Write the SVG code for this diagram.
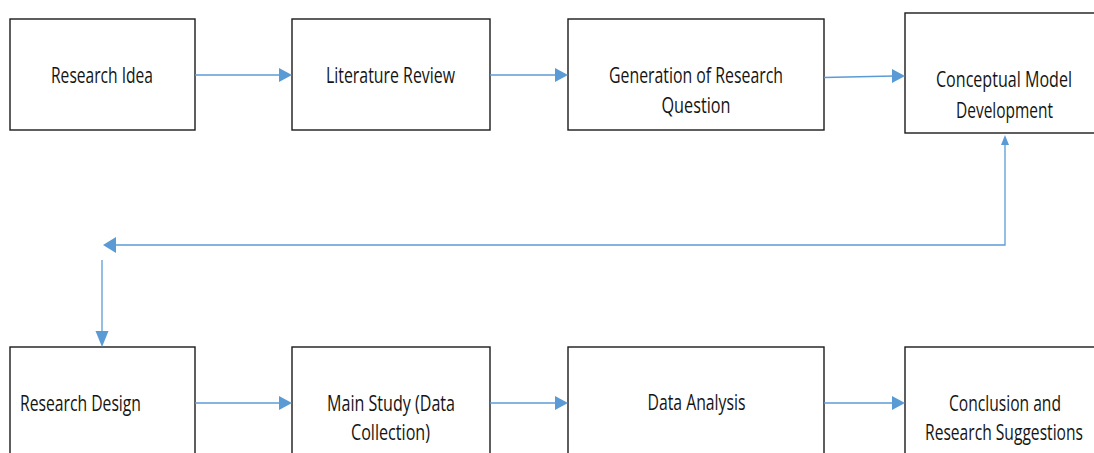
<svg xmlns="http://www.w3.org/2000/svg" width="1094" height="453" viewBox="0 0 1094 453">
  <style>
    .box { fill: #ffffff; stroke: #1a1a1a; stroke-width: 1.4; }
    .lbl { font-family: "Open Sans", "Liberation Sans", sans-serif; font-size: 21px; fill: #141414; text-anchor: middle; }
    .lbl-left { text-anchor: start; }
    .wire { fill: none; stroke: #5b9bd5; stroke-width: 1.3; }
    .head { fill: #5b9bd5; }
  </style>
  <rect width="1094" height="453" fill="#ffffff"/>

  <!-- top row -->
  <g id="research-idea">
    <rect class="box" x="10" y="19" width="185" height="111"/>
    <text class="lbl" x="102" y="83" textLength="102" lengthAdjust="spacingAndGlyphs">Research Idea</text>
  </g>
  <g id="literature-review">
    <rect class="box" x="292" y="19" width="198" height="111"/>
    <text class="lbl" x="390.5" y="83" textLength="129" lengthAdjust="spacingAndGlyphs">Literature Review</text>
  </g>
  <g id="research-question">
    <rect class="box" x="568" y="19" width="256" height="111"/>
    <text class="lbl" x="696" y="83" textLength="174" lengthAdjust="spacingAndGlyphs">Generation of Research</text>
    <text class="lbl" x="696" y="113" textLength="69" lengthAdjust="spacingAndGlyphs">Question</text>
  </g>
  <g id="conceptual-model">
    <rect class="box" x="905" y="13" width="200" height="120"/>
    <text class="lbl" x="1004" y="87" textLength="136" lengthAdjust="spacingAndGlyphs">Conceptual Model</text>
    <text class="lbl" x="1004.5" y="118" textLength="97" lengthAdjust="spacingAndGlyphs">Development</text>
  </g>

  <!-- bottom row -->
  <g id="research-design">
    <rect class="box" x="10" y="347" width="185" height="120"/>
    <text class="lbl lbl-left" x="20" y="411" textLength="121" lengthAdjust="spacingAndGlyphs">Research Design</text>
  </g>
  <g id="main-study">
    <rect class="box" x="292" y="347" width="198" height="120"/>
    <text class="lbl" x="391" y="411" textLength="128" lengthAdjust="spacingAndGlyphs">Main Study (Data</text>
    <text class="lbl" x="390.5" y="440" textLength="79" lengthAdjust="spacingAndGlyphs">Collection)</text>
  </g>
  <g id="data-analysis">
    <rect class="box" x="568" y="347" width="256" height="120"/>
    <text class="lbl" x="696.5" y="410" textLength="98" lengthAdjust="spacingAndGlyphs">Data Analysis</text>
  </g>
  <g id="conclusion">
    <rect class="box" x="905" y="347" width="200" height="120"/>
    <text class="lbl" x="1005" y="411" textLength="112" lengthAdjust="spacingAndGlyphs">Conclusion and</text>
    <text class="lbl" x="1004" y="440" textLength="158" lengthAdjust="spacingAndGlyphs">Research Suggestions</text>
  </g>

  <!-- connectors -->
  <g id="connectors">
    <!-- top row flow -->
    <line class="wire" x1="195" y1="75" x2="280" y2="75"/>
    <polygon class="head" points="292,75 279,68 279,82"/>
    <line class="wire" x1="490" y1="75" x2="556" y2="75"/>
    <polygon class="head" points="568,75 555,68 555,82"/>
    <line class="wire" x1="824" y1="77.5" x2="894" y2="76"/>
    <polygon class="head" points="905,76 892,69 892,83"/>

    <!-- return path from the conceptual model down to the second row -->
    <polyline class="wire" points="1005,145 1005,245 115,245"/>
    <polygon class="head" points="1005,135 1001,145 1009,145"/>
    <polygon class="head" points="103,245 116,237 116,253"/>
    <line class="wire" x1="102" y1="260" x2="102" y2="333"/>
    <polygon class="head" points="102,347 95.5,331 108.5,331"/>

    <!-- bottom row flow -->
    <line class="wire" x1="195" y1="403" x2="280" y2="403"/>
    <polygon class="head" points="292,403 279,396 279,410"/>
    <line class="wire" x1="490" y1="403" x2="556" y2="403"/>
    <polygon class="head" points="568,403 555,396 555,410"/>
    <line class="wire" x1="824" y1="403" x2="893" y2="403"/>
    <polygon class="head" points="905,403 892,396 892,410"/>
  </g>
</svg>
